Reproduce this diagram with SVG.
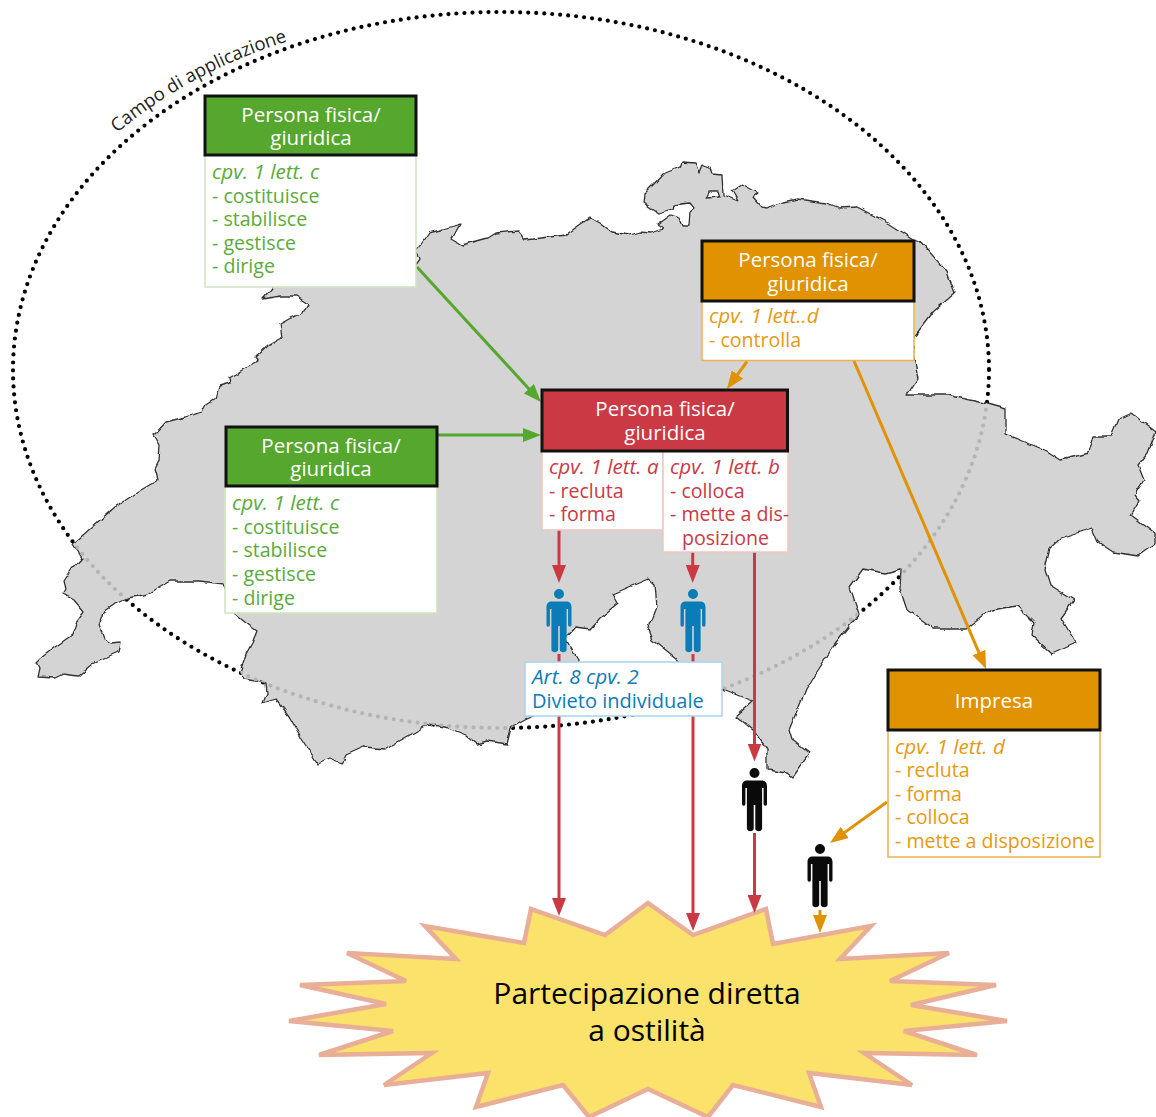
<svg xmlns="http://www.w3.org/2000/svg" xmlns:xlink="http://www.w3.org/1999/xlink" width="1156" height="1117" viewBox="0 0 1156 1117">
<style>
text{font-family:"Open Sans","Noto Sans","Liberation Sans",sans-serif;font-size:19.6px}
.head{stroke:#111;stroke-width:3}
.body{fill:#fff;stroke-width:1.5}
.t{fill:#fff;text-anchor:middle;font-size:20.500px}
.i{font-style:italic;font-size:20.700px}
.gh{fill:#55a72e}.gb{stroke:#cfe2bf}.g{fill:#5bab3b}
.rh{fill:#cb3a44}.rb{stroke:#f0c6bd}.r{fill:#cb3a44}
.oh{fill:#e09200}.ob{stroke:#ebb24f}.o{fill:#e59a12}
.b{fill:#0a7cb8}
.a{fill:none;stroke-width:3}
.ag{stroke:#55a72e}.ar{stroke:#cb3a44}.ao{stroke:#e09200}
#map{fill:#d4d4d4;stroke:#333;stroke-width:1.3;stroke-linejoin:round;fill-rule:evenodd}
.dots{fill:none;stroke-width:4.2;stroke-linecap:round;stroke-dasharray:0 8}
</style>
<defs>
<filter id="wiggle" x="-2%" y="-2%" width="104%" height="104%"><feTurbulence type="fractalNoise" baseFrequency="0.09" numOctaves="2" seed="4"/><feDisplacementMap in="SourceGraphic" scale="5" xChannelSelector="R" yChannelSelector="G"/></filter>
<marker id="mg" markerUnits="userSpaceOnUse" markerWidth="18" markerHeight="14" refX="5" refY="7" orient="auto"><path d="M0 0L18 7L0 14Z" fill="#55a72e"/></marker>
<marker id="mr" markerUnits="userSpaceOnUse" markerWidth="18" markerHeight="14" refX="5" refY="7" orient="auto"><path d="M0 0L18 7L0 14Z" fill="#cb3a44"/></marker>
<marker id="mo" markerUnits="userSpaceOnUse" markerWidth="18" markerHeight="14" refX="5" refY="7" orient="auto"><path d="M0 0L18 7L0 14Z" fill="#e09200"/></marker>
<path id="mapPath" d="M272 285L272 289L263 299L281 296L296 296L308 304L304 312L289 319L280 324L282 337L268 345L255 357L258 361L240 372L229 378L230 383L219 386L215 398L207 403L202 412L185 417L166 422L154 435L160 445L159 461L155 469L158 480L141 490L115 507L92 527L73 544L82 558L72 569L64 581L66 589L63 594L74 600L84 612L76 623L72 635L55 647L41 658L37 662L40 668L38 677L55 678L63 674L78 676L92 664L118 652L120 642L111 643L104 639L99 625L104 612L115 604L128 598L148 594L170 581L200 581L224 584L235 614L246 623L257 631L252 643L246 654L240 672L244 679L266 683L267 693L263 703L276 699L289 716L302 739L318 764L329 759L342 764L346 755L364 747L385 749L403 739L429 724L448 728L466 735L477 744L488 741L507 744L511 728L525 720L570 700L578 660L565 638L575 627L590 629L600 618L618 603L613 594L627 588L648 579L655 585L657 607L648 630L652 640L667 652L677 660L700 680L723 689L753 701L736 716L753 730L767 749L767 770L787 773L792 777L809 753L792 740L789 730L806 689L833 647L859 614L850 587L863 569L885 573L901 569L900 589L907 610L933 629L966 629L991 610L1017 606L1034 623L1032 635L1052 654L1076 643L1061 618L1074 600L1050 585L1045 569L1050 548L1061 538L1092 528L1098 542L1113 552L1138 556L1155 544L1155 533L1131 515L1140 500L1135 494L1144 480L1138 465L1148 453L1156 432L1131 413L1118 419L1111 436L1094 436L1089 453L1061 460L1047 451L1006 434L1006 409L988 404L947 395L907 395L918 378L912 349L914 337L933 312L955 293L947 272L920 241L913 239L890 224L857 207L840 208L827 203L797 199L783 202L767 208L762 207L753 197L758 193L742 184L732 191L738 201L723 195L722 175L712 174L710 167L702 164L699 174L695 163L682 162L680 167L663 174L653 185L645 193L644 203L658 213L672 209L673 205L690 203L695 209L690 213L689 225L683 225L680 218L671 215L657 225L663 229L650 233L640 232L630 235L612 232L600 223L591 218L580 225L566 235L525 240L518 231L496 233L488 238L462 245L452 239L460 224L444 229L429 233L417 250L420 259L405 280ZM708 191L718 191L720 197L706 198Z"/>
<clipPath id="mapClip"><use xlink:href="#mapPath" href="#mapPath"/></clipPath>
<path id="person" d="M0 -5A5 5 0 1 1 0 5A5 5 0 1 1 0 -5ZM-7 7.5H7C10.5 7.5 12.5 9.5 12.5 13V31A1.7 1.7 0 0 1 9.1 31V15H7.6V55.5C7.6 59 .8 59 .8 55.5V32H-.8V55.5C-.8 59 -7.6 59 -7.6 55.5V15H-9.1V31A1.7 1.7 0 0 1 -12.5 31V13C-12.5 9.5 -10.5 7.5 -7 7.5Z"/>
<path id="arc" d="M117 133Q193.500 69.500 292 40L320 32"/>
</defs>
<rect width="1156" height="1117" fill="#fff"/>
<g id="scope">
<ellipse class="dots" cx="501" cy="370" rx="488" ry="358" stroke="#000"/>
<text fill="#222" style="font-size:18.500px"><textPath xlink:href="#arc" href="#arc">Campo di applicazione</textPath></text>
</g>
<use id="map" xlink:href="#mapPath" href="#mapPath" filter="url(#wiggle)"/>
<g clip-path="url(#mapClip)"><ellipse class="dots" cx="501" cy="370" rx="488" ry="358" stroke="#b4b4b4"/></g>
<g id="burst">
<polygon points="648,903 693,935 766,909 773,944 871,926 840,959 949,953 890,981 996,985 911,1005 1007,1021 904,1031 977,1055 864,1053 912,1085 809,1073 821,1107 733,1085 708,1117 648,1089 589,1117 563,1085 476,1107 488,1073 384,1085 432,1053 319,1055 393,1031 289,1021 386,1004 300,985 406,981 347,953 456,959 425,926 524,943 531,909 605,935" fill="#fbe26a" stroke="#e9ae97" stroke-width="4.5"/>
<text x="647" y="1004" text-anchor="middle" style="font-size:30px" fill="#000">Partecipazione diretta</text>
<text x="647" y="1041" text-anchor="middle" style="font-size:30px" fill="#000">a ostilità</text>
</g>
<g id="connectors">
<line class="a ag" x1="417" y1="267" x2="532.2" y2="392.4" marker-end="url(#mg)"/>
<line class="a ag" x1="437" y1="435" x2="528" y2="435" marker-end="url(#mg)"/>
<line class="a ao" x1="747" y1="361.5" x2="734.6" y2="378.5" marker-end="url(#mo)"/>
<line class="a ao" x1="854" y1="361" x2="980.9" y2="657.1" marker-end="url(#mo)"/>
<line class="a ar" x1="559" y1="530" x2="559" y2="570" marker-end="url(#mr)"/>
<line class="a ar" x1="692.7" y1="552" x2="692.7" y2="570" marker-end="url(#mr)"/>
<line class="a ar" x1="559" y1="654" x2="559" y2="903" marker-end="url(#mr)"/>
<line class="a ar" x1="693" y1="654" x2="693" y2="918" marker-end="url(#mr)"/>
<line class="a ar" x1="754.5" y1="552" x2="754.5" y2="748.5" marker-end="url(#mr)"/>
<line class="a ar" x1="754.5" y1="833" x2="754.5" y2="900" marker-end="url(#mr)"/>
<line class="a ao" x1="887" y1="802" x2="840.6" y2="835.4" marker-end="url(#mo)"/>
<line class="a ao" x1="820" y1="910" x2="820" y2="920" marker-end="url(#mo)"/>
</g>
<g id="green-1">
<rect class="body gb" x="205" y="155" width="211" height="132"/>
<rect class="head gh" x="205" y="96" width="211" height="59"/>
<text class="t" x="311" y="122">Persona fisica/</text><text class="t" x="311" y="145">giuridica</text>
<text class="g i" x="212" y="179">cpv. 1 lett. c</text><text class="g" x="212" y="203">- costituisce</text><text class="g" x="212" y="226">- stabilisce</text><text class="g" x="212" y="250">- gestisce</text><text class="g" x="212" y="273">- dirige</text>
</g>
<g id="green-2">
<rect class="body gb" x="225" y="486" width="212" height="127"/>
<rect class="head gh" x="226" y="427" width="211" height="59"/>
<text class="t" x="331" y="453">Persona fisica/</text><text class="t" x="331" y="476">giuridica</text>
<text class="g i" x="232" y="510">cpv. 1 lett. c</text><text class="g" x="232" y="534">- costituisce</text><text class="g" x="232" y="557">- stabilisce</text><text class="g" x="232" y="581">- gestisce</text><text class="g" x="232" y="605">- dirige</text>
</g>
<g id="orange-1">
<rect class="body ob" x="702" y="301" width="212" height="59.500"/>
<rect class="head oh" x="702" y="241" width="212" height="60"/>
<text class="t" x="808" y="267">Persona fisica/</text><text class="t" x="808" y="291">giuridica</text>
<text class="o i" x="709" y="323">cpv. 1 lett..d</text><text class="o" x="709" y="347">- controlla</text>
</g>
<g id="red">
<rect class="body rb" x="542" y="451" width="121" height="79"/>
<rect class="body rb" x="663" y="451" width="125" height="101"/>
<rect class="head rh" x="542" y="390" width="245.500" height="61"/>
<text class="t" x="665" y="416">Persona fisica/</text><text class="t" x="665" y="440">giuridica</text>
<text class="r i" x="549" y="474">cpv. 1 lett. a</text><text class="r" x="549" y="498">- recluta</text><text class="r" x="549" y="521">- forma</text>
<text class="r i" x="670" y="474">cpv. 1 lett. b</text><text class="r" x="670" y="498">- colloca</text><text class="r" x="670" y="521">- mette a dis-</text><text class="r" x="682" y="545">posizione</text>
</g>
<g id="impresa">
<rect class="body ob" x="888" y="730" width="212" height="127"/>
<rect class="head oh" x="888" y="670" width="212" height="60"/>
<text class="t" x="994" y="708">Impresa</text>
<text class="o i" x="895" y="754">cpv. 1 lett. d</text><text class="o" x="895" y="777">- recluta</text><text class="o" x="895" y="801">- forma</text><text class="o" x="895" y="824">- colloca</text><text class="o" x="895" y="848">- mette a disposizione</text>
</g>
<g id="person-blue-1"><use xlink:href="#person" href="#person" x="559" y="594" fill="#0a7cb8"/></g>
<g id="person-blue-2"><use xlink:href="#person" href="#person" x="693" y="594" fill="#0a7cb8"/></g>
<g id="person-black-1"><use xlink:href="#person" href="#person" x="754.500" y="773" fill="#0a0a0a"/></g>
<g id="person-black-2"><use xlink:href="#person" href="#person" x="820" y="849" fill="#0a0a0a"/></g>
<g id="ban">
<rect x="525" y="662" width="197" height="54" fill="#fff" stroke="#a9d2ea" stroke-width="1.5"/>
<text class="b i" x="532" y="684">Art. 8 cpv. 2</text><text class="b" x="532" y="708" style="font-size:20px">Divieto individuale</text>
</g>
</svg>
